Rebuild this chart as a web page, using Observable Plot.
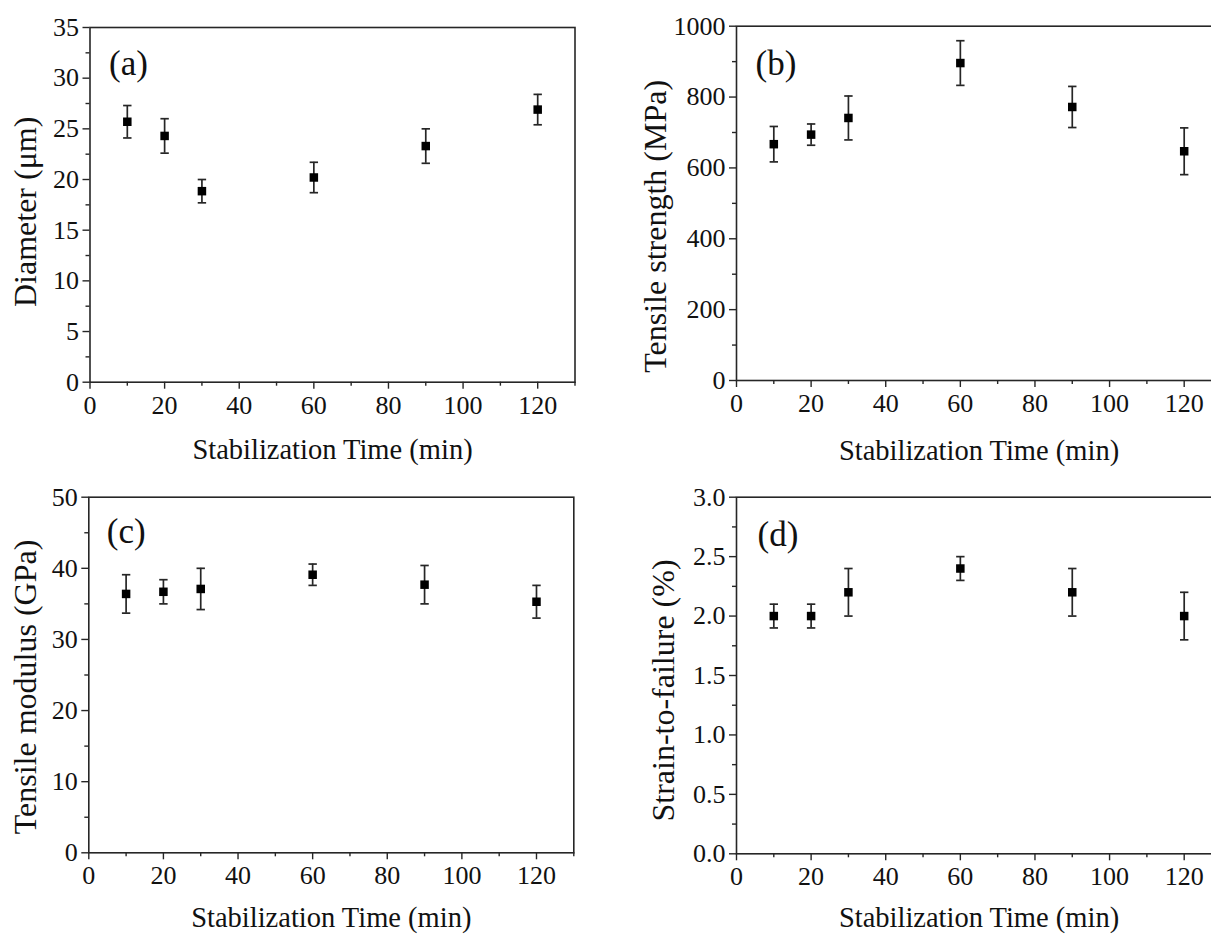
<!DOCTYPE html>
<html>
<head>
<meta charset="utf-8">
<script src="https://cdn.jsdelivr.net/npm/d3@7"></script>
<script src="https://cdn.jsdelivr.net/npm/@observablehq/plot@0.6"></script>
<style>
  html, body { margin: 0; padding: 0; background: #fff; }
  body { width: 1211px; height: 934px; position: relative; overflow: hidden; font-family: "Liberation Serif", "Times New Roman", serif; }
  .panel { position: absolute; overflow: hidden; }
  .panel svg { display: block; max-width: none !important; height: auto; }
  .panel svg text, .panel svg g { font-family: "Liberation Serif", "Times New Roman", serif !important; font-variant: normal !important; }
</style>
</head>
<body>
<div id="pa" class="panel" style="left:0px;top:0px;width:605px;height:467px"></div>
<div id="pb" class="panel" style="left:605px;top:0px;width:606px;height:467px"></div>
<div id="pc" class="panel" style="left:0px;top:467px;width:605px;height:467px"></div>
<div id="pd" class="panel" style="left:605px;top:467px;width:606px;height:467px"></div>
<script>
// ---- data ----
const times = [10, 20, 30, 60, 90, 120];

const diameter    = [25.7, 24.3, 18.85, 20.2, 23.3, 26.9];
const diameterErr = [1.6, 1.7, 1.15, 1.5, 1.7, 1.5];

const strength    = [667, 694, 741, 896, 772, 647];
const strengthErr = [50, 30, 62, 63, 58, 66];

const modulus     = [36.4, 36.7, 37.1, 39.1, 37.7, 35.3];
const modulusErr  = [2.7, 1.7, 2.9, 1.5, 2.7, 2.3];

const strain      = [2.0, 2.0, 2.2, 2.4, 2.2, 2.0];
const strainErr   = [0.1, 0.1, 0.2, 0.1, 0.2, 0.2];

const xTicks      = [0, 20, 40, 60, 80, 100, 120];
const xMinorTicks = [10, 30, 50, 70, 90, 110, 130];

const yTicksA = [0, 5, 10, 15, 20, 25, 30, 35];
const yMinorA = [2.5, 7.5, 12.5, 17.5, 22.5, 27.5, 32.5];
const yTicksB = [0, 200, 400, 600, 800, 1000];
const yMinorB = [100, 300, 500, 700, 900];
const yTicksC = [0, 10, 20, 30, 40, 50];
const yMinorC = [5, 15, 25, 35, 45];
const yTicksD = [0, 0.5, 1.0, 1.5, 2.0, 2.5, 3.0];
const yMinorD = [0.25, 0.75, 1.25, 1.75, 2.25, 2.75];

const xTitle = "Stabilization Time (min)";

// ---- drawing ----
const FONT = "'Liberation Serif', 'Times New Roman', serif";
const INK = "#262626";

const capSymbol = {
  draw(ctx, size) {
    const w = Math.sqrt(size / Math.PI);
    ctx.moveTo(-w, 0);
    ctx.lineTo(w, 0);
  }
};

function panel(cfg) {
  const data = times.map((t, i) => ({t, v: cfg.values[i], e: cfg.errors[i]}));
  const plot = Plot.plot({
    width: cfg.width,
    height: 467,
    marginLeft: cfg.ml,
    marginRight: cfg.mr,
    marginTop: cfg.mt,
    marginBottom: cfg.mb,
    style: {fontFamily: FONT, fontSize: "26px", color: "#111", background: "#fff", overflow: "visible", maxWidth: "none"},
    x: {domain: [0, 130]},
    y: {domain: cfg.yDomain},
    marks: [
      Plot.ruleX(data, {x: "t", y1: d => d.v - d.e, y2: d => d.v + d.e, stroke: INK, strokeWidth: 1.7}),
      Plot.dot(data, {x: "t", y: d => d.v - d.e, symbol: capSymbol, r: 4.2, stroke: INK, strokeWidth: 1.7, fill: "none"}),
      Plot.dot(data, {x: "t", y: d => d.v + d.e, symbol: capSymbol, r: 4.2, stroke: INK, strokeWidth: 1.7, fill: "none"}),
      Plot.dot(data, {x: "t", y: "v", symbol: "square", r: 4.8, fill: "#000", stroke: "none"}),
      Plot.frame({stroke: INK, strokeWidth: 1.6}),
      Plot.axisX({ticks: xTicks, tickSize: 7, tickPadding: 6, tickFormat: d => String(d), label: null, stroke: INK, strokeWidth: 1.4, fontFamily: FONT, fontSize: 26, fill: "#111"}),
      Plot.axisX({ticks: xMinorTicks, tickSize: 4, tickFormat: () => "", label: null, stroke: INK, strokeWidth: 1.4}),
      Plot.axisY({ticks: cfg.yTicks, tickSize: 7, tickPadding: 4, tickFormat: cfg.fmt, label: null, stroke: INK, strokeWidth: 1.4, fontFamily: FONT, fontSize: 26, fill: "#111"}),
      Plot.axisY({ticks: cfg.yMinor, tickSize: 4, tickFormat: () => "", label: null, stroke: INK, strokeWidth: 1.4}),
      Plot.text([cfg.letter], {frameAnchor: "top-left", dx: cfg.ldx, dy: cfg.ldy, textAnchor: "start", lineAnchor: "middle", fontSize: 35, fontFamily: FONT, fill: "#111"}),
      Plot.text([xTitle], {frameAnchor: "bottom", dy: cfg.xdy, textAnchor: "middle", lineAnchor: "middle", fontSize: 28.5, fontFamily: FONT, fill: "#111"}),
      Plot.text([cfg.yTitle], {frameAnchor: "left", rotate: -90, dx: cfg.ydx, dy: cfg.ydy, textAnchor: "middle", lineAnchor: "middle", fontSize: 32, fontFamily: FONT, fill: "#111"})
    ]
  });
  document.getElementById(cfg.id).appendChild(plot);
}

panel({id: "pa", width: 605, ml: 89.5, mr: 30.5, mt: 27, mb: 85.3,
  values: diameter, errors: diameterErr, yDomain: [0, 35], yTicks: yTicksA, yMinor: yMinorA,
  fmt: d3.format("d"), letter: "(a)", ldx: 19, ldy: 36, xdy: 68,
  yTitle: "Diameter (\u03bcm)", ydx: -64.5, ydy: 7});

panel({id: "pb", width: 646, ml: 131, mr: 30, mt: 25.7, mb: 87,
  values: strength, errors: strengthErr, yDomain: [0, 1000], yTicks: yTicksB, yMinor: yMinorB,
  fmt: d3.format("d"), letter: "(b)", ldx: 19, ldy: 38, xdy: 70,
  yTitle: "Tensile strength (MPa)", ydx: -81, ydy: 23});

panel({id: "pc", width: 605, ml: 88.3, mr: 31.7, mt: 29.7, mb: 81.7,
  values: modulus, errors: modulusErr, yDomain: [0, 50], yTicks: yTicksC, yMinor: yMinorC,
  fmt: d3.format("d"), letter: "(c)", ldx: 18, ldy: 35, xdy: 65,
  yTitle: "Tensile modulus (GPa)", ydx: -63.3, ydy: 12});

panel({id: "pd", width: 646, ml: 131, mr: 30, mt: 29.7, mb: 80.7,
  values: strain, errors: strainErr, yDomain: [0, 3], yTicks: yTicksD, yMinor: yMinorD,
  fmt: d3.format(".1f"), letter: "(d)", ldx: 21, ldy: 38, xdy: 64,
  yTitle: "Strain-to-failure (%)", ydx: -73, ydy: 15});
</script>
</body>
</html>
